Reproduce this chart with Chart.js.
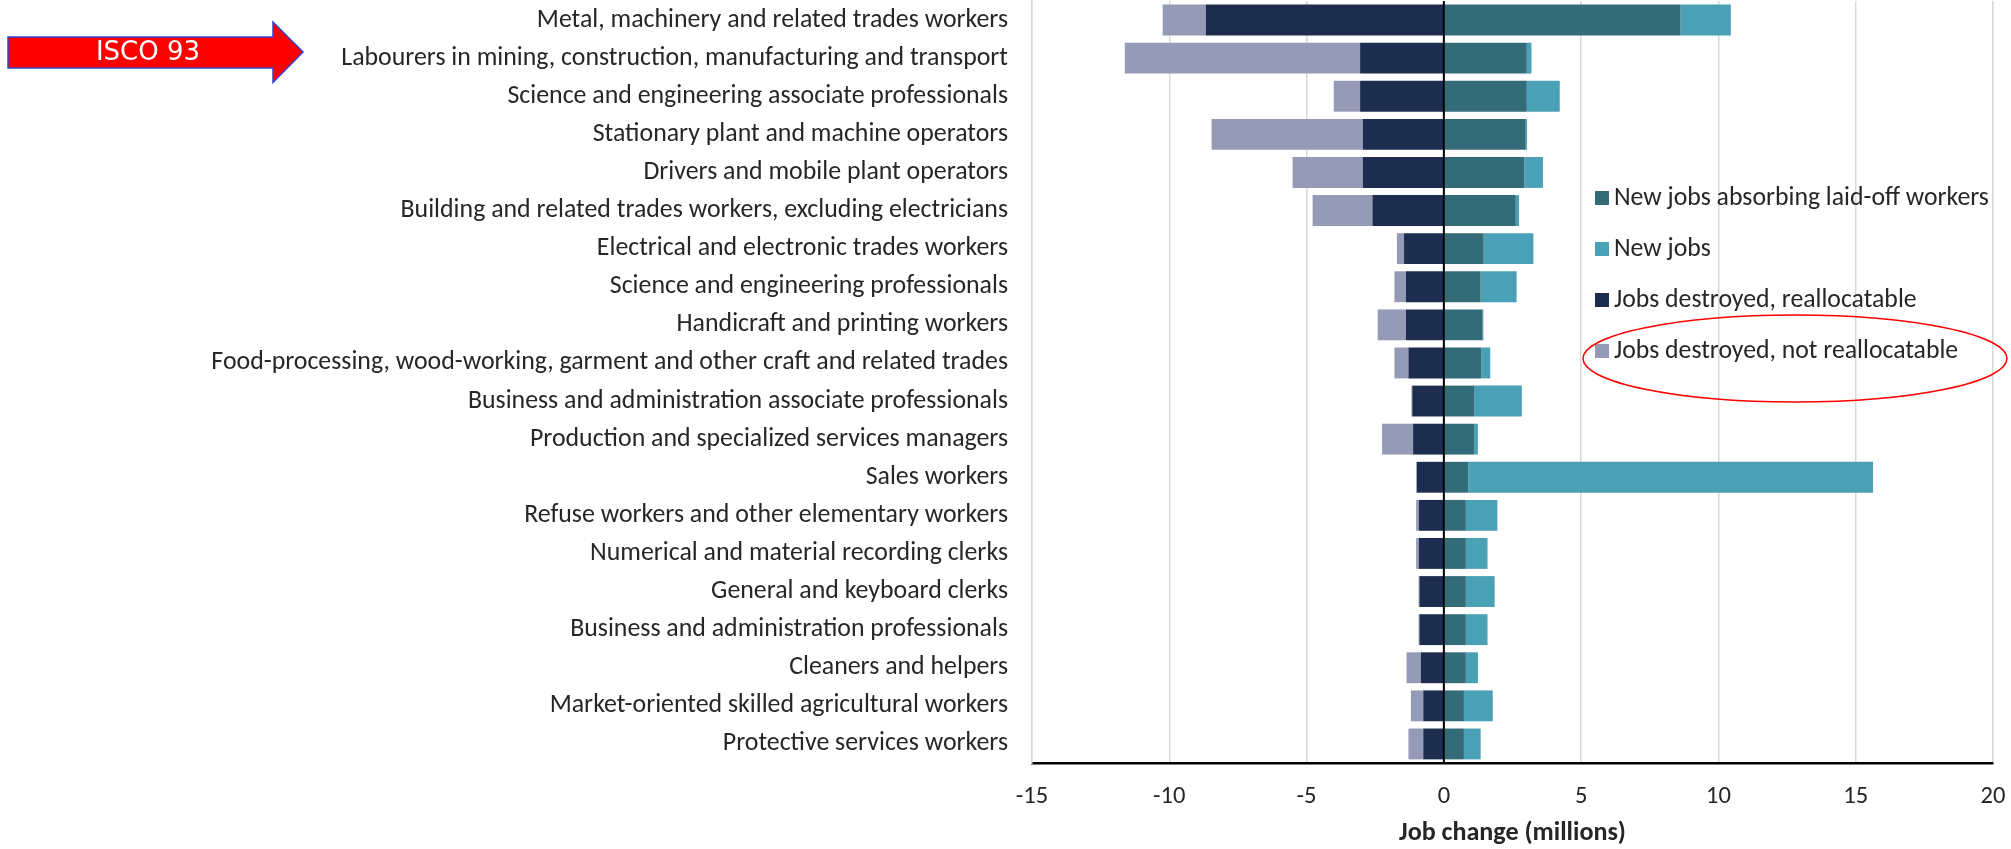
<!DOCTYPE html>
<html>
<head>
<meta charset="utf-8">
<script src="https://cdn.jsdelivr.net/npm/chart.js@4.4.1/dist/chart.umd.min.js"></script>
<style>
  html, body { margin: 0; padding: 0; background: #ffffff; }
  #wrap { width: 2011px; height: 849px; }
</style>
</head>
<body>
<div id="wrap"><canvas id="c" width="2011" height="849"></canvas></div>
<script>
// ---------- data ----------
const categories = [
  "Metal, machinery and related trades workers",
  "Labourers in mining, construction, manufacturing and transport",
  "Science and engineering associate professionals",
  "Stationary plant and machine operators",
  "Drivers and mobile plant operators",
  "Building and related trades workers, excluding electricians",
  "Electrical and electronic trades workers",
  "Science and engineering professionals",
  "Handicraft and printing workers",
  "Food-processing, wood-working, garment and other craft and related trades",
  "Business and administration associate professionals",
  "Production and specialized services managers",
  "Sales workers",
  "Refuse workers and other elementary workers",
  "Numerical and material recording clerks",
  "General and keyboard clerks",
  "Business and administration professionals",
  "Cleaners and helpers",
  "Market-oriented skilled agricultural workers",
  "Protective services workers"
];
const seriesNames = [
  "Jobs destroyed, reallocatable",
  "Jobs destroyed, not reallocatable",
  "New jobs absorbing laid-off workers",
  "New jobs"
];
const jobsDestroyedReallocatable = [-8.67, -3.05, -3.05, -2.95, -2.95, -2.60, -1.45, -1.38, -1.38, -1.29, -1.15, -1.12, -0.98, -0.91, -0.91, -0.89, -0.89, -0.84, -0.75, -0.75];
const jobsDestroyedNotReallocatable = [-1.57, -8.57, -0.96, -5.51, -2.56, -2.18, -0.26, -0.42, -1.03, -0.51, -0.03, -1.13, -0.03, -0.10, -0.10, -0.03, -0.03, -0.52, -0.45, -0.54];
const newJobsAbsorbing = [8.62, 3.02, 3.02, 2.98, 2.93, 2.62, 1.45, 1.34, 1.41, 1.36, 1.10, 1.10, 0.89, 0.80, 0.80, 0.80, 0.80, 0.80, 0.73, 0.73];
const newJobs = [1.83, 0.17, 1.20, 0.05, 0.68, 0.12, 1.81, 1.31, 0.03, 0.33, 1.74, 0.14, 14.74, 1.15, 0.79, 1.05, 0.79, 0.44, 1.05, 0.61];
const xTicks = [-15, -10, -5, 0, 5, 10, 15, 20];
const axisTitle = "Job change (millions)";
const arrowLabel = "ISCO 93";

// ---------- styles ----------
const colors = ["#1c2d50", "#959ab6", "#336c78", "#4aa0b4"];
const legendOrder = [2, 3, 0, 1];

const mctx = document.createElement('canvas').getContext('2d');
function hasFont(f) {
  const t = 'mmmmmmmmmmlliWQ@#1';
  mctx.font = '40px monospace';
  const w0 = mctx.measureText(t).width;
  mctx.font = '40px "' + f + '", monospace';
  return Math.abs(mctx.measureText(t).width - w0) > 0.5;
}
let family = 'sans-serif';
for (const f of ['Carlito', 'Liberation Sans Narrow', 'Roboto', 'Open Sans']) {
  if (hasFont(f)) { family = f; break; }
}
function fit(text, weight, target) {
  mctx.font = weight + ' 100px "' + family + '"';
  return 100 * target / mctx.measureText(text).width;
}
const catSize = Math.min(34, fit(categories[1], 'normal', 667));
const legSize = Math.min(34, fit(seriesNames[2], 'normal', 375));
const titleSize = Math.min(34, fit(axisTitle, 'bold', 227));
const tickSize = catSize * 0.95;

Chart.defaults.font.family = '"' + family + '", sans-serif';
Chart.defaults.color = '#262626';

const PLOT_LEFT = 1032, PLOT_RIGHT = 1993, PLOT_TOP = 1, PLOT_BOTTOM = 763;

const overlay = {
  id: 'overlay',
  afterDatasetsDraw(chart) {
    const ctx = chart.ctx, xs = chart.scales.x, a = chart.chartArea;
    const x0 = xs.getPixelForValue(0);
    ctx.save();
    ctx.strokeStyle = '#000';
    ctx.lineWidth = 2;
    ctx.beginPath();
    ctx.moveTo(x0, a.top);
    ctx.lineTo(x0, a.bottom);
    ctx.stroke();
    ctx.restore();
  },
  afterDraw(chart) {
    const ctx = chart.ctx;
    ctx.save();
    // legend
    const lx = 1595, ly0 = 198, lstep = 51;
    ctx.font = legSize + 'px "' + family + '", sans-serif';
    ctx.textBaseline = 'middle';
    ctx.textAlign = 'left';
    legendOrder.forEach((di, i) => {
      const ds = chart.data.datasets[di];
      const y = ly0 + i * lstep;
      ctx.fillStyle = ds.backgroundColor;
      ctx.fillRect(lx, y - 7, 14, 14);
      ctx.fillStyle = '#262626';
      ctx.fillText(ds.label, lx + 19, y + 1);
    });
    // ellipse
    ctx.strokeStyle = '#ff0000';
    ctx.lineWidth = 1.5;
    ctx.beginPath();
    ctx.ellipse(1795, 358.5, 212, 43.5, 0, 0, Math.PI * 2);
    ctx.stroke();
    // arrow
    ctx.beginPath();
    ctx.moveTo(8, 37);
    ctx.lineTo(273, 37);
    ctx.lineTo(273, 22);
    ctx.lineTo(303, 52);
    ctx.lineTo(273, 82.5);
    ctx.lineTo(273, 68);
    ctx.lineTo(8, 68);
    ctx.closePath();
    ctx.fillStyle = '#ff0000';
    ctx.fill();
    ctx.strokeStyle = '#3344cc';
    ctx.lineWidth = 1.5;
    ctx.stroke();
    ctx.fillStyle = '#ffffff';
    ctx.font = '26px "DejaVu Sans", Verdana, sans-serif';
    ctx.textAlign = 'center';
    ctx.textBaseline = 'middle';
    ctx.fillText(arrowLabel, 148, 53);
    ctx.restore();
  }
};

const data = [jobsDestroyedReallocatable, jobsDestroyedNotReallocatable, newJobsAbsorbing, newJobs];

new Chart(document.getElementById('c'), {
  type: 'bar',
  data: {
    labels: categories,
    datasets: data.map((d, i) => ({
      label: seriesNames[i],
      data: d,
      backgroundColor: colors[i],
      borderWidth: 0,
      barPercentage: 0.81,
      categoryPercentage: 1.0,
      stack: 's'
    }))
  },
  options: {
    indexAxis: 'y',
    responsive: false,
    animation: false,
    devicePixelRatio: 1,
    layout: { padding: { top: PLOT_TOP, right: 2011 - PLOT_RIGHT, bottom: 0, left: 0 } },
    plugins: { legend: { display: false }, tooltip: { enabled: false } },
    scales: {
      x: {
        type: 'linear',
        stacked: true,
        min: xTicks[0],
        max: xTicks[xTicks.length - 1],
        afterBuildTicks(scale) { scale.ticks = xTicks.map(v => ({ value: v })); },
        grid: { color: '#d9d9d9', lineWidth: 1.5, drawTicks: false },
        border: { display: true, color: '#000000', width: 2.5 },
        ticks: { padding: 19, color: '#262626', font: { size: tickSize } },
        title: { display: true, text: axisTitle, color: '#262626', font: { size: titleSize, weight: 'bold' }, padding: { top: 0, bottom: 0 } },
        afterFit(scale) {
          scale.height = 849 - PLOT_BOTTOM;
          scale.paddingLeft = 0; scale.paddingRight = 0;
          scale.paddingTop = 0; scale.paddingBottom = 0;
        }
      },
      y: {
        stacked: true,
        grid: { display: false, drawTicks: false },
        border: { display: true, color: '#d9d9d9', width: 1.5 },
        ticks: { autoSkip: false, padding: 24, color: '#262626', font: { size: catSize } },
        afterFit(scale) {
          scale.width = PLOT_LEFT;
          scale.paddingTop = 0; scale.paddingBottom = 0;
          scale.paddingLeft = 0; scale.paddingRight = 0;
        }
      }
    }
  },
  plugins: [overlay]
});
</script>
</body>
</html>
